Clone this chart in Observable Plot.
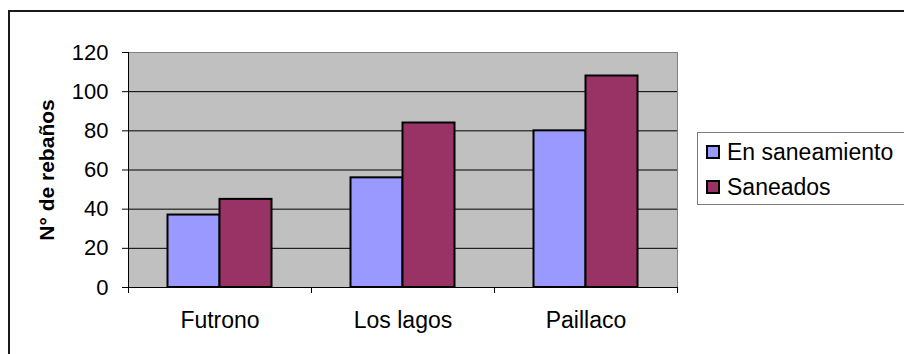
<!DOCTYPE html>
<html>
<head>
<meta charset="utf-8">
<script src="https://cdn.jsdelivr.net/npm/d3@7"></script>
<script src="https://cdn.jsdelivr.net/npm/@observablehq/plot@0.6"></script>
<style>
  html, body { margin: 0; padding: 0; background: #fff; overflow: hidden; }
  #wrap { position: relative; width: 904px; height: 354px; overflow: hidden; font-family: "Liberation Sans", Arial, sans-serif; }
  #border { position: absolute; left: 8px; top: 10px; width: 1000px; height: 500px; border: 2px solid #1a1a1a; box-sizing: border-box; pointer-events: none; }
  #legend { position: absolute; left: 697px; top: 132px; width: 260px; height: 73px; border: 1px solid #7a7a7a; box-sizing: border-box; background: #fff; }
  .item { position: absolute; left: 8px; height: 24px; display: flex; align-items: center; font-size: 23px; color: #000; white-space: nowrap; }
  .sw { width: 10px; height: 10px; border: 2px solid #000; margin-right: 7px; }
  #chart { position: absolute; left: 0; top: 0; }
</style>
</head>
<body>
<div id="wrap">
  <div id="chart"></div>
  <div id="border"></div>
  <div id="legend"></div>
</div>
<script>
const categories = ["Futrono", "Los lagos", "Paillaco"];
const series = ["En saneamiento", "Saneados"];
const enSaneamiento = [37, 56, 80];
const saneados = [45, 84, 108];
const yTicks = [0, 20, 40, 60, 80, 100, 120];
const colors = ["#9999FF", "#993366"];
const yTitle = "N° de rebaños";

const W = 904, H = 354;
const mL = 128, mR = 227, mT = 52, mB = 67;
const bw = (W - mL - mR) / categories.length;
const barW = 52, gap = (bw - 2 * barW) / 2;
const plotH = H - mT - mB;

const rowsA = categories.map((c, i) => ({cat: c, series: series[0], value: enSaneamiento[i]}));
const rowsB = categories.map((c, i) => ({cat: c, series: series[1], value: saneados[i]}));

const font = "'Liberation Sans', Arial, sans-serif";

const chart = Plot.plot({
  width: W,
  height: H,
  marginLeft: mL, marginRight: mR, marginTop: mT, marginBottom: mB,
  style: {fontFamily: font, background: "transparent", color: "#000", overflow: "visible"},
  x: {domain: categories, padding: 0, axis: null},
  y: {domain: [0, 120], axis: null},
  color: {domain: series, range: colors},
  marks: [
    Plot.frame({fill: "#c0c0c0", stroke: "#808080"}),
    Plot.ruleY(yTicks.filter(t => t > 0 && t < 120), {stroke: "#000", strokeWidth: 1}),
    Plot.barY(rowsA, {x: "cat", y: "value", fill: "series", stroke: "#000", strokeWidth: 2, insetLeft: gap, insetRight: gap + barW}),
    Plot.barY(rowsB, {x: "cat", y: "value", fill: "series", stroke: "#000", strokeWidth: 2, insetLeft: gap + barW, insetRight: gap}),
    Plot.frame({anchor: "left", stroke: "#000"}),
    Plot.ruleY([0], {stroke: "#000", strokeWidth: 1}),
    Plot.axisY(yTicks, {tickSize: 6, tickPadding: 14, fontSize: 22, label: null}),
    Plot.axisX({tickSize: 0, tickPadding: 24, fontSize: 23, label: null}),
    Plot.ruleX(categories, {dx: -bw / 2, insetTop: plotH - 6, dy: 6, stroke: "#000"}),
    Plot.ruleX(categories.slice(-1), {dx: bw / 2, insetTop: plotH - 6, dy: 6, stroke: "#000"}),
    Plot.text([yTitle], {frameAnchor: "left", textAnchor: "middle", dx: -81, rotate: -90, fontSize: 21, fontWeight: "bold", fill: "#000"})
  ]
});
document.getElementById("chart").appendChild(chart);

const legend = document.getElementById("legend");
series.forEach((s, i) => {
  const it = document.createElement("div");
  it.className = "item";
  it.style.top = (7 + i * 35) + "px";
  const sw = document.createElement("span");
  sw.className = "sw";
  sw.style.background = colors[i];
  const tx = document.createElement("span");
  tx.textContent = s;
  it.appendChild(sw);
  it.appendChild(tx);
  legend.appendChild(it);
});
</script>
</body>
</html>
